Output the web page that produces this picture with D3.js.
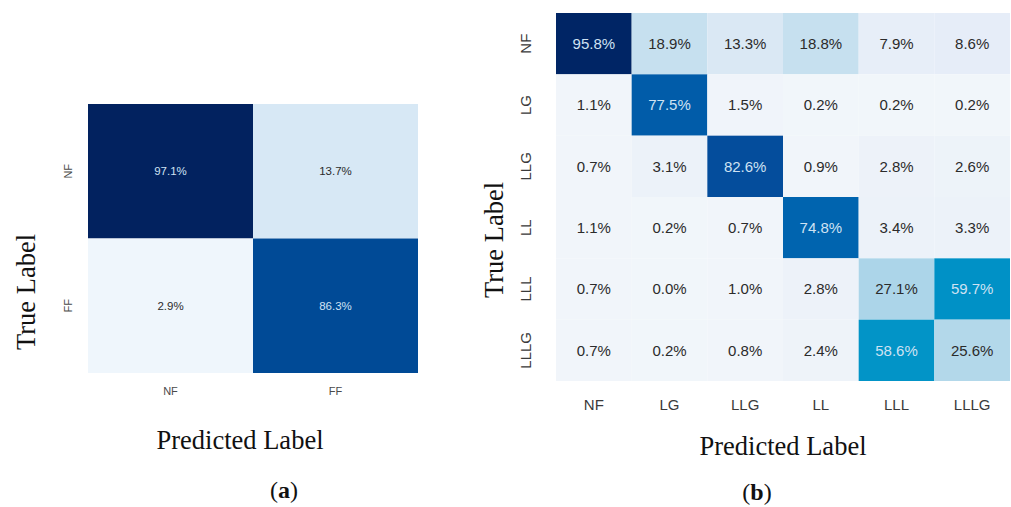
<!DOCTYPE html>
<html>
<head>
<meta charset="utf-8">
<script src="https://cdn.jsdelivr.net/npm/d3@7"></script>
<style>
  html, body { margin: 0; padding: 0; background: #fff; }
  svg { display: block; }
  .tick text { font-family: "Liberation Sans", Arial, sans-serif; }
  .title { font-family: "Liberation Serif", "Times New Roman", serif; fill: #111; }
</style>
</head>
<body>
<svg id="fig" width="1011" height="507"></svg>
<script>
// (a) binary confusion matrix
const classesA = ["NF", "FF"];
const valuesA = [
  [97.1, 13.7],
  [2.9, 86.3]
];

// (b) six-class confusion matrix
const classesB = ["NF", "LG", "LLG", "LL", "LLL", "LLLG"];
const valuesB = [
  [95.8, 18.9, 13.3, 18.8, 7.9, 8.6],
  [1.1, 77.5, 1.5, 0.2, 0.2, 0.2],
  [0.7, 3.1, 82.6, 0.9, 2.8, 2.6],
  [1.1, 0.2, 0.7, 74.8, 3.4, 3.3],
  [0.7, 0.0, 1.0, 2.8, 27.1, 59.7],
  [0.7, 0.2, 0.8, 2.4, 58.6, 25.6]
];

const axisTitleX = "Predicted Label";
const axisTitleY = "True Label";

const svg = d3.select("#fig");

function cellsOf(values, classes) {
  const out = [];
  values.forEach((row, i) => row.forEach((v, j) =>
    out.push({ row: classes[i], col: classes[j], v })));
  return out;
}

function drawMatrix(opts) {
  const { classes, values, x0, x1, y0, y1, color, lightAbove,
          valueSize, tickSize, tickColor, yTickX, xTickY } = opts;
  const g = svg.append("g");

  const x = d3.scaleBand().domain(classes).range([x0, x1]);
  const y = d3.scaleBand().domain(classes).range([y0, y1]);

  const cells = cellsOf(values, classes);

  g.selectAll("rect.cell").data(cells).join("rect")
    .attr("class", "cell")
    .attr("x", d => x(d.col))
    .attr("y", d => y(d.row))
    .attr("width", x.bandwidth())
    .attr("height", y.bandwidth())
    .attr("fill", d => color(d.v));

  g.selectAll("text.val").data(cells).join("text")
    .attr("class", "val")
    .attr("x", d => x(d.col) + x.bandwidth() / 2)
    .attr("y", d => y(d.row) + y.bandwidth() / 2)
    .attr("dy", "0.35em")
    .attr("text-anchor", "middle")
    .style("font-family", "'Liberation Sans', Arial, sans-serif")
    .style("font-size", valueSize + "px")
    .attr("fill", d => d.v > lightAbove ? "#cfe2f3" : "#2b2b2b")
    .text(d => d3.format(".1f")(d.v) + "%");

  // bottom axis: predicted classes
  const ax = g.append("g")
    .attr("transform", `translate(0,${xTickY})`)
    .call(d3.axisBottom(x).tickSize(0).tickPadding(0));
  ax.select(".domain").remove();
  ax.selectAll("text")
    .attr("dy", "0.35em").attr("y", 0)
    .style("font-size", tickSize + "px")
    .attr("fill", tickColor);

  // left axis: true classes, rotated labels
  const ay = g.append("g")
    .attr("transform", `translate(${yTickX},0)`)
    .call(d3.axisLeft(y).tickSize(0).tickPadding(0));
  ay.select(".domain").remove();
  ay.selectAll("text")
    .attr("x", 0).attr("dy", "0.35em")
    .attr("text-anchor", "middle")
    .attr("transform", "rotate(-90)")
    .style("font-size", tickSize + "px")
    .attr("fill", tickColor);

  return g;
}

// Panel (a): blues ramp
const colorA = d3.scaleLinear()
  .domain([2.9, 13.7, 86.3, 97.1])
  .range(["#eff6fc", "#d7e8f5", "#004a96", "#02225f"])
  .interpolate(d3.interpolateRgb);

drawMatrix({
  classes: classesA, values: valuesA,
  x0: 88, x1: 418, y0: 104, y1: 373,
  color: colorA, lightAbove: 50,
  valueSize: 11.5, tickSize: 11, tickColor: "#4a4a4a",
  yTickX: 68, xTickY: 391
});

// Panel (b): blue ramp with a cyan middle
const colorB = d3.scaleLinear()
  .domain([0, 1, 3, 8, 13.3, 18.9, 26, 59, 75, 83, 96])
  .range(["#f1f6fa", "#f1f5fa", "#ecf2f9", "#e7eef8", "#dae8f4", "#c6e0ef",
          "#b2d7ea", "#0093c7", "#0063af", "#044c9b", "#002464"])
  .interpolate(d3.interpolateRgb);

drawMatrix({
  classes: classesB, values: valuesB,
  x0: 556, x1: 1010, y0: 13, y1: 381,
  color: colorB, lightAbove: 50,
  valueSize: 15, tickSize: 15, tickColor: "#3a3a3a",
  yTickX: 526, xTickY: 405
});

// Axis titles and panel captions
function title(txt, cx, cy, size, rotate) {
  const t = svg.append("text")
    .attr("class", "title")
    .attr("text-anchor", "middle")
    .style("font-size", size + "px")
    .text(txt);
  if (rotate) {
    t.attr("transform", `translate(${cx},${cy}) rotate(-90)`).attr("dy", "0.35em");
  } else {
    t.attr("x", cx).attr("y", cy);
  }
  return t;
}

title(axisTitleX, 240, 449, 26.5, false);
title(axisTitleY, 26, 292, 26.5, true);
title(axisTitleX, 783, 455, 26.5, false);
title(axisTitleY, 494, 240, 26.5, true);

function caption(letter, cx, cy) {
  const t = svg.append("text")
    .attr("class", "title")
    .attr("x", cx).attr("y", cy)
    .attr("text-anchor", "middle")
    .style("font-size", "24px");
  t.append("tspan").text("(");
  t.append("tspan").style("font-weight", "bold").text(letter);
  t.append("tspan").text(")");
}
caption("a", 284, 498);
caption("b", 757, 500);
</script>
</body>
</html>
